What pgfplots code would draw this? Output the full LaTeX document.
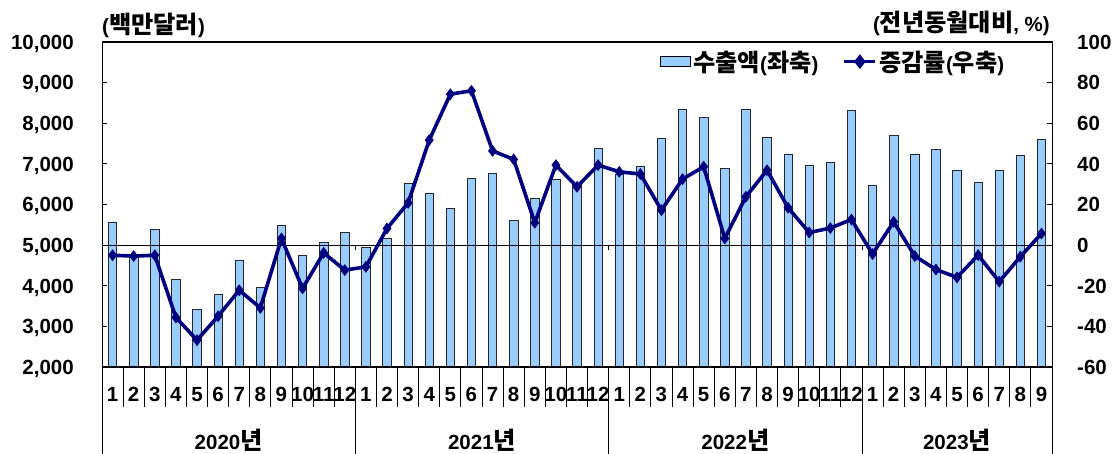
\documentclass[border=0pt]{standalone}
\usepackage{fontspec}
\setmainfont{Liberation Sans}
\newfontfamily\kr{Noto Sans CJK KR}[Scale=1.18]
\usepackage{pgfplots}
\pgfplotsset{compat=1.18}
\usepackage{pgfplotstable}
\definecolor{barblue}{HTML}{99CCFF}
\definecolor{navy}{HTML}{000080}
\newcommand{\fs}{\bfseries\fontsize{20.5bp}{24bp}\selectfont}

\pgfplotstableread{
x amt yoy
1 5570 -5.0
2 4730 -5.4
3 5390 -5.0
4 4150 -35.6
5 3410 -46.8
6 3790 -35.0
7 4630 -22.2
8 3950 -30.9
9 5480 3.3
10 4740 -21.3
11 5070 -3.8
12 5320 -12.3
13 4950 -10.7
14 5160 8.2
15 6520 20.8
16 6280 51.7
17 5900 74.3
18 6640 76.0
19 6760 46.4
20 5600 42.2
21 6140 11.0
22 6610 39.4
23 6520 28.7
24 7380 39.4
25 6730 36.1
26 6930 35.0
27 7620 17.2
28 8330 32.5
29 8150 38.6
30 6880 3.3
31 8330 23.8
32 7650 36.9
33 7230 18.4
34 6960 6.2
35 7030 8.4
36 8310 12.6
37 6470 -4.4
38 7710 11.5
39 7240 -5.4
40 7360 -12.0
41 6850 -15.9
42 6550 -4.9
43 6850 -18.0
44 7200 -5.7
45 7600 5.7
}\data

\begin{document}
\begin{tikzpicture}
\useasboundingbox (0,0) rectangle (1120bp,454bp);
\begin{axis}[
  at={(102bp,87bp)}, anchor=south west,
  width=950bp, height=325bp, scale only axis,
  clip mode=individual,
  xmin=0.5, xmax=45.5, ymin=2000, ymax=10000,
  axis line style={line width=1bp},
  ytick={2000,3000,...,10000}, ytick pos=left,
  scaled y ticks=false,
  tick align=inside, major tick length=5bp,
  tick style={line width=0.8bp, black},
  xtick={1,...,45},
  xticklabels={1,2,3,4,5,6,7,8,9,10,11,12,1,2,3,4,5,6,7,8,9,10,11,12,1,2,3,4,5,6,7,8,9,10,11,12,1,2,3,4,5,6,7,8,9},
  xtick style={draw=none},
  xticklabel style={anchor=base, yshift=-34.5bp, inner sep=0pt, font=\fs},
  yticklabel style={anchor=base east, xshift=-28bp, yshift=-7.3bp, inner sep=0pt, font=\fs,
    /pgf/number format/1000 sep={,}},
  /pgf/number format/assume math mode=true,
]
\addplot[ybar, bar width=8.5bp, fill=barblue, draw=black!85, line width=0.7bp] table[x=x,y=amt]{\data};
\draw[line width=0.8bp] (axis cs:0.5,5000) -- (axis cs:45.5,5000);
\pgfplotsinvokeforeach{12.5,24.5,36.5}{\draw[line width=0.8bp] (axis cs:#1,5000) -- ++(0pt,-5bp);}
\pgfplotsinvokeforeach{1.5,2.5,3.5,4.5,5.5,6.5,7.5,8.5,9.5,10.5,11.5,13.5,14.5,15.5,16.5,17.5,18.5,19.5,20.5,21.5,22.5,23.5,25.5,26.5,27.5,28.5,29.5,30.5,31.5,32.5,33.5,34.5,35.5,37.5,38.5,39.5,40.5,41.5,42.5,43.5,44.5}{\draw[line width=0.8bp] (axis cs:#1,2000) -- ++(0pt,-40bp);}
\pgfplotsinvokeforeach{0.5,12.5,24.5,36.5,45.5}{\draw[line width=0.8bp] (axis cs:#1,2000) -- ++(0pt,-87bp);}
\node[anchor=base, font=\fs] at ([yshift=-82.5bp]axis cs:6.5,2000) {2020{\kr 년}};
\node[anchor=base, font=\fs] at ([yshift=-82.5bp]axis cs:18.5,2000) {2021{\kr 년}};
\node[anchor=base, font=\fs] at ([yshift=-82.5bp]axis cs:30.5,2000) {2022{\kr 년}};
\node[anchor=base, font=\fs] at ([yshift=-82.5bp]axis cs:41,2000) {2023{\kr 년}};
\node[anchor=west, font=\fs, inner sep=0pt] at ([yshift=17bp]axis description cs:0,1) {({\kr 백만달러})};
\node[anchor=east, font=\fs, inner sep=0pt] at ([yshift=19bp,xshift=-2bp]axis description cs:1,1) {({\kr 전년동월대비}, \%)};
\end{axis}
\begin{axis}[
  at={(102bp,87bp)}, anchor=south west,
  width=950bp, height=325bp, scale only axis,
  xmin=0.5, xmax=45.5, ymin=-60, ymax=100,
  axis line style={line width=1bp},
  xtick=\empty,
  ytick={-60,-40,...,100}, ytick pos=right,
  tick align=inside, major tick length=5bp,
  tick style={line width=0.8bp, black},
  yticklabel style={anchor=base west, xshift=25bp, yshift=-7.3bp, inner sep=0pt, font=\fs},
  /pgf/number format/assume math mode=true,
  legend style={at={(axis description cs:1,1)}, anchor=north east, xshift=-45bp, yshift=-6bp,
    draw=none, fill=none, font=\fs, inner sep=0pt,
    nodes={inner sep=2.5bp},
    /tikz/every even column/.append style={column sep=22bp}},
  legend columns=2, legend cell align=left,
]
\addlegendimage{legend image code/.code={\draw[fill=barblue, draw=black, line width=0.7bp] (0bp,-5bp) rectangle (30bp,5bp);}}
\addlegendentry{{\kr 수출액}({\kr 좌축})}
\addplot[navy, line width=3.6bp, mark=diamond*, mark size=5.5bp, mark options={line width=0.5bp},
  legend image code/.code={\draw[navy, line width=3bp] (0bp,0bp) -- (31bp,0bp);
    \fill[navy] (15.5bp,4.5bp) -- (19bp,0bp) -- (15.5bp,-4.5bp) -- (12bp,0bp) -- cycle;}]
  table[x=x,y=yoy]{\data};
\addlegendentry{{\kr 증감률}({\kr 우축})}
\end{axis}
\end{tikzpicture}
\end{document}
